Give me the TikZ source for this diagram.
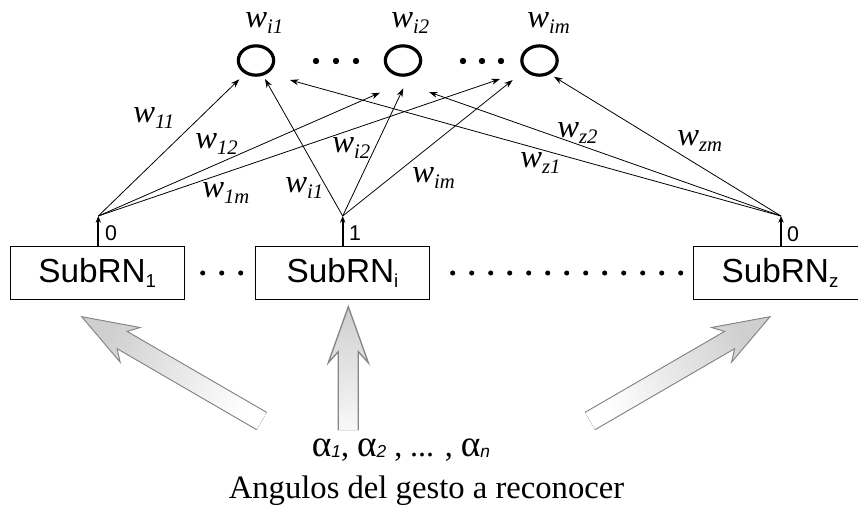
\documentclass[tikz,border=0pt]{standalone}
\usepackage{fontspec}
\setmainfont{Liberation Serif}
\newfontfamily\arialf{Liberation Sans}
\usetikzlibrary{arrows.meta,calc,shapes.geometric}
\newcommand\wlab[1]{\fontsize{24.5}{24.5}\selectfont\textit{w}\raisebox{-4.5pt}{\fontsize{15.5}{15.5}\selectfont\textit{#1}}}
\newcommand\sublab[1]{\arialf\fontsize{25}{25}\selectfont SubRN\raisebox{-3.8pt}{\fontsize{14}{14}\selectfont #1}}
\newcommand\alsub[1]{{\fontsize{28}{28}\selectfont α}\raisebox{-1pt}{\arialf\itshape\fontsize{13}{13}\selectfont #1}}
\begin{document}
\begin{tikzpicture}[x=0.75pt,y=-0.75pt,
  neuron/.style={ellipse,draw,line width=2.4pt,minimum width=26.5pt,minimum height=22pt,inner sep=0pt},
  subbox/.style={draw,line width=0.75pt,minimum width=130.2pt,minimum height=39.75pt,inner sep=0pt},
  wl/.style={anchor=base west,inner sep=0pt},
  conn/.style={line width=0.6pt,-{Stealth[length=6.5pt,width=4.5pt]}},
  outarr/.style={line width=1.4pt,-{Stealth[length=5pt,width=4pt]}},
  bigarrow/.style={draw=gray!95,line width=0.7pt},
  digit/.style={font=\arialf\fontsize{16}{16}\selectfont,inner sep=0pt},
  dot/.style={fill=black}]
\clip (0,0) rectangle (858,508);
\fill[white] (0,0) rectangle (858,508);

% neurons
\node[neuron] (c1) at (256,60.5) {};
\node[neuron] (c2) at (403,60.5) {};
\node[neuron] (cm) at (539.5,60.5) {};
\node[wl] (lc1) at (245,27) {\wlab{i1}};
\node[wl] (lc2) at (391,27) {\wlab{i2}};
\node[wl] (lcm) at (527,27) {\wlab{im}};
\foreach \x in {316,336,356,463,482,501} \fill[dot] (\x,61) circle[radius=2.4pt];

% sub networks
\node[subbox] (s1) at (97.2,272.5) {\sublab{1}};
\node[subbox] (si) at (342.5,272.5) {\sublab{i}};
\node[subbox] (sz) at (780,272.5) {\sublab{z}};
\foreach \x in {202.7,221.7,240.7} \fill[dot] (\x,273) circle[radius=1.9pt];
\foreach \k in {0,...,12} \fill[dot] (452.7+19*\k,273) circle[radius=1.9pt];

% fan points
\coordinate (f1) at (98.3,216);
\coordinate (fi) at (342.7,216);
\coordinate (fz) at (781,216);
\draw[outarr] (f1 |- s1.north) -- (f1);
\draw[outarr] (fi |- si.north) -- (fi);
\draw[outarr] (fz |- sz.north) -- (fz);
\node[digit] (d1) at (111,233) {0};
\node[digit] (di) at (355,233) {1};
\node[digit] (dz) at (793,234) {0};

% arrow ends
\coordinate (e11) at (239.3,79.3);
\coordinate (e12) at (380,92.7);
\coordinate (e1m) at (500,79);
\coordinate (ei1) at (265,79);
\coordinate (ei2) at (403.3,88.3);
\coordinate (eim) at (512.7,80);
\coordinate (ez1) at (290,80);
\coordinate (ez2) at (429,92);
\coordinate (ezm) at (554,76.7);
\draw[conn] (f1) -- (e11);
\draw[conn] (f1) -- (e12);
\draw[conn] (f1) -- (e1m);
\draw[conn] (fi) -- (ei1);
\draw[conn] (fi) -- (ei2);
\draw[conn] (fi) -- (eim);
\draw[conn] (fz) -- (ez1);
\draw[conn] (fz) -- (ez2);
\draw[conn] (fz) -- (ezm);

% weight labels
\node[wl] (w11) at (133,122) {\wlab{11}};
\node[wl] (w12) at (195,148) {\wlab{12}};
\node[wl] (w1m) at (202,197) {\wlab{1m}};
\node[wl] (wi1) at (285,192) {\wlab{i1}};
\node[wl] (wi2) at (332,152) {\wlab{i2}};
\node[wl] (wim) at (412,182) {\wlab{im}};
\node[wl] (wz2) at (557,137) {\wlab{z2}};
\node[wl] (wz1) at (520,167) {\wlab{z1}};
\node[wl] (wzm) at (677,145) {\wlab{zm}};

% big input arrows
\fill[top color=gray!38,bottom color=white,shading angle=60]
  (266.7,412.4) -- (127.1,331.4) -- (140.1,327.5) -- (81.7,316.7) -- (120.1,362.1) -- (117.1,348.7) -- (256.7,429.7) -- cycle;
\draw[bigarrow] (266.7,412.4) -- (127.1,331.4) -- (140.1,327.5) -- (81.7,316.7) -- (120.1,362.1) -- (117.1,348.7) -- (256.7,429.7);
\fill[top color=gray!38,bottom color=white,shading angle=-60]
  (585.0,412.4) -- (724.6,331.4) -- (711.6,327.5) -- (770,316.7) -- (731.6,362.1) -- (734.6,348.7) -- (595,429.7) -- cycle;
\draw[bigarrow] (585.0,412.4) -- (724.6,331.4) -- (711.6,327.5) -- (770,316.7) -- (731.6,362.1) -- (734.6,348.7) -- (595,429.7);
\fill[top color=gray!38,bottom color=gray!5]
  (338.3,430) -- (338.3,351.7) -- (328.3,362.7) -- (348.3,306.7) -- (368.3,362.7) -- (358.3,351.7) -- (358.3,430) -- cycle;
\draw[bigarrow,line width=1pt] (338.3,430) -- (338.3,351.7) -- (328.3,362.7) -- (348.3,306.7) -- (368.3,362.7) -- (358.3,351.7) -- (358.3,430);

% inputs text
\node[anchor=base,inner sep=0pt] (alpha) at (401,456.5)
  {\fontsize{24}{24}\selectfont\alsub{1}, \alsub{2} , ... , \alsub{n}};
\node[anchor=base,inner sep=0pt] (cap) at (426.5,498.5)
  {\fontsize{24.5}{24.5}\selectfont Angulos del gesto a reconocer};
\end{tikzpicture}
\end{document}
